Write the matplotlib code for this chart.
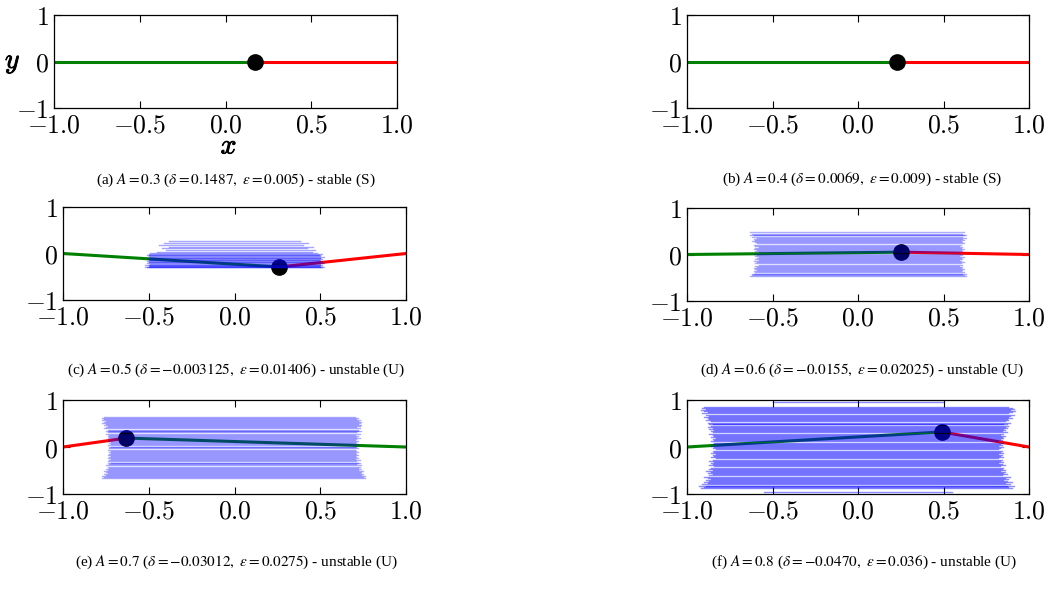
import matplotlib
matplotlib.use("Agg")
import matplotlib.pyplot as plt
import matplotlib.patheffects as pe

plt.rcParams['mathtext.fontset'] = 'cm'
plt.rcParams['font.family'] = ['DejaVu Serif']

# ---- data ----
panel_ids = ["a", "b", "c", "d", "e", "f"]
amplitudes = ["0.3", "0.4", "0.5", "0.6", "0.7", "0.8"]
deltas = ["0.1487", "0.0069", "-0.003125", "-0.0155", "-0.03012", "-0.0470"]
epsilons = ["0.005", "0.009", "0.01406", "0.02025", "0.0275", "0.036"]
verdicts = ["stable (S)", "stable (S)", "unstable (U)", "unstable (U)",
            "unstable (U)", "unstable (U)"]

# equilibrium point (black dot) per panel
eq_x = [0.17, 0.23, 0.26, 0.25, -0.63, 0.49]
eq_y = [0.0, 0.0, -0.29, 0.05, 0.19, 0.32]
# which side of the dot is green: 'left' or 'right'
green_side = ["left", "left", "left", "left", "right", "left"]

xticks = [-1.0, -0.5, 0.0, 0.5, 1.0]
xtick_labels = [r"$-1.0$", r"$-0.5$", r"$0.0$", r"$0.5$", r"$1.0$"]
yticks = [-1, 0, 1]
ytick_labels = [r"$-1$", r"$0$", r"$1$"]

# blue trajectories: y level, left end, right end
traj_c_y = [-0.30, -0.29, -0.28, -0.27, -0.26, -0.25, -0.24, -0.22, -0.21, -0.19,
            -0.18, -0.16, -0.15, -0.13, -0.12, -0.10, -0.09, -0.07, -0.06, -0.04,
            -0.03, -0.01, 0.01, 0.04, 0.08, 0.11, 0.15, 0.19, 0.23, 0.27]
traj_c_xl = [-0.52, -0.50, -0.51, -0.49, -0.50, -0.52, -0.50, -0.49, -0.51, -0.50,
             -0.50, -0.51, -0.49, -0.50, -0.50, -0.51, -0.50, -0.49, -0.50, -0.50,
             -0.51, -0.50, -0.49, -0.45, -0.40, -0.42, -0.38, -0.44, -0.41, -0.38]
traj_c_xr = [0.51, 0.50, 0.52, 0.50, 0.49, 0.51, 0.50, 0.50, 0.52, 0.50,
             0.51, 0.50, 0.49, 0.50, 0.51, 0.50, 0.50, 0.52, 0.50, 0.49,
             0.50, 0.51, 0.48, 0.45, 0.47, 0.42, 0.46, 0.40, 0.43, 0.38]

traj_d_y = [-0.47, -0.45, -0.43, -0.41, -0.38, -0.36, -0.34, -0.31, -0.29, -0.27,
            -0.24, -0.22, -0.19, -0.17, -0.15, -0.12, -0.10, -0.07, -0.05, -0.03,
            0.00, 0.02, 0.05, 0.07, 0.09, 0.12, 0.14, 0.17, 0.19, 0.21,
            0.24, 0.26, 0.29, 0.31, 0.33, 0.36, 0.38, 0.41, 0.43, 0.45, 0.48]
traj_d_xl = [-0.63, -0.62, -0.61, -0.62, -0.60, -0.61, -0.59, -0.60, -0.61, -0.59,
             -0.60, -0.58, -0.60, -0.59, -0.61, -0.58, -0.60, -0.59, -0.58, -0.60,
             -0.59, -0.61, -0.58, -0.60, -0.59, -0.61, -0.60, -0.58, -0.60, -0.61,
             -0.59, -0.60, -0.62, -0.60, -0.61, -0.59, -0.62, -0.61, -0.63, -0.62, -0.63]
traj_d_xr = [0.63, 0.62, 0.63, 0.61, 0.62, 0.60, 0.61, 0.62, 0.60, 0.61,
             0.59, 0.61, 0.60, 0.62, 0.60, 0.59, 0.61, 0.60, 0.62, 0.59,
             0.61, 0.60, 0.59, 0.61, 0.60, 0.62, 0.60, 0.61, 0.59, 0.60,
             0.62, 0.61, 0.60, 0.62, 0.61, 0.63, 0.61, 0.62, 0.63, 0.61, 0.62]

traj_e_y = [-0.66, -0.64, -0.62, -0.60, -0.57, -0.55, -0.53, -0.51, -0.48, -0.46,
            -0.44, -0.42, -0.39, -0.37, -0.35, -0.33, -0.30, -0.28, -0.26, -0.24,
            -0.21, -0.19, -0.17, -0.15, -0.12, -0.10, -0.08, -0.06, -0.03, -0.01,
            0.01, 0.04, 0.06, 0.08, 0.10, 0.13, 0.15, 0.17, 0.19, 0.22,
            0.24, 0.26, 0.28, 0.31, 0.33, 0.35, 0.37, 0.40, 0.42, 0.44,
            0.46, 0.49, 0.51, 0.53, 0.55, 0.58, 0.60, 0.62, 0.64]
traj_e_xl = [-0.77, -0.76, -0.77, -0.75, -0.76, -0.74, -0.75, -0.76, -0.74, -0.75,
             -0.73, -0.74, -0.75, -0.73, -0.74, -0.72, -0.74, -0.73, -0.72, -0.74,
             -0.73, -0.72, -0.74, -0.73, -0.72, -0.73, -0.72, -0.74, -0.73, -0.72,
             -0.73, -0.74, -0.72, -0.73, -0.72, -0.74, -0.73, -0.72, -0.74, -0.73,
             -0.74, -0.73, -0.75, -0.74, -0.73, -0.75, -0.74, -0.76, -0.75, -0.74,
             -0.76, -0.75, -0.77, -0.76, -0.75, -0.77, -0.76, -0.77, -0.76]
traj_e_xr = [0.76, 0.75, 0.76, 0.74, 0.75, 0.73, 0.74, 0.75, 0.72, 0.74,
             0.72, 0.73, 0.74, 0.71, 0.73, 0.72, 0.71, 0.73, 0.70, 0.72,
             0.71, 0.70, 0.72, 0.71, 0.70, 0.72, 0.71, 0.70, 0.72, 0.71,
             0.70, 0.71, 0.72, 0.70, 0.71, 0.72, 0.70, 0.71, 0.73, 0.71,
             0.72, 0.70, 0.73, 0.71, 0.72, 0.74, 0.72, 0.73, 0.71, 0.73,
             0.74, 0.72, 0.73, 0.74, 0.72, 0.73, 0.71, 0.72, 0.70]

traj_f_y = [-0.95, -0.88, -0.86, -0.84, -0.82, -0.79, -0.77, -0.75, -0.72, -0.70,
            -0.68, -0.65, -0.63, -0.60, -0.58, -0.56, -0.53, -0.51, -0.48, -0.46,
            -0.44, -0.41, -0.39, -0.36, -0.34, -0.32, -0.29, -0.27, -0.24, -0.22,
            -0.20, -0.17, -0.15, -0.12, -0.10, -0.08, -0.05, -0.03, 0.00, 0.02,
            0.04, 0.07, 0.09, 0.12, 0.14, 0.16, 0.19, 0.21, 0.24, 0.26,
            0.28, 0.31, 0.33, 0.36, 0.38, 0.40, 0.43, 0.45, 0.48, 0.50,
            0.52, 0.55, 0.57, 0.60, 0.62, 0.64, 0.67, 0.69, 0.72, 0.74,
            0.76, 0.79, 0.81, 0.84, 0.86, 0.95]
traj_f_xl = [-0.55, -0.92, -0.90, -0.93, -0.89, -0.91, -0.88, -0.90, -0.87, -0.89,
             -0.86, -0.88, -0.90, -0.87, -0.85, -0.88, -0.86, -0.89, -0.85, -0.87,
             -0.86, -0.84, -0.87, -0.85, -0.86, -0.84, -0.87, -0.85, -0.83, -0.86,
             -0.84, -0.85, -0.83, -0.86, -0.84, -0.85, -0.83, -0.85, -0.84, -0.86,
             -0.83, -0.85, -0.84, -0.86, -0.84, -0.85, -0.83, -0.86, -0.84, -0.85,
             -0.87, -0.85, -0.86, -0.84, -0.87, -0.85, -0.88, -0.86, -0.87, -0.85,
             -0.88, -0.86, -0.89, -0.87, -0.88, -0.90, -0.87, -0.89, -0.91, -0.88,
             -0.90, -0.92, -0.89, -0.91, -0.90, -0.50]
traj_f_xr = [0.55, 0.90, 0.88, 0.91, 0.87, 0.89, 0.86, 0.90, 0.87, 0.85,
             0.88, 0.86, 0.89, 0.84, 0.87, 0.85, 0.86, 0.83, 0.86, 0.84,
             0.85, 0.83, 0.86, 0.84, 0.82, 0.85, 0.83, 0.84, 0.82, 0.85,
             0.83, 0.84, 0.82, 0.85, 0.83, 0.84, 0.82, 0.83, 0.85, 0.82,
             0.84, 0.83, 0.85, 0.82, 0.84, 0.83, 0.85, 0.84, 0.86, 0.83,
             0.85, 0.87, 0.84, 0.86, 0.85, 0.87, 0.86, 0.88, 0.85, 0.87,
             0.89, 0.86, 0.88, 0.87, 0.90, 0.88, 0.89, 0.91, 0.88, 0.90,
             0.92, 0.89, 0.91, 0.90, 0.88, 0.50]

trajectories = {
    "c": (traj_c_y, traj_c_xl, traj_c_xr),
    "d": (traj_d_y, traj_d_xl, traj_d_xr),
    "e": (traj_e_y, traj_e_xl, traj_e_xr),
    "f": (traj_f_y, traj_f_xl, traj_f_xr),
}
traj_alpha = {"c": 0.35, "d": 0.32, "e": 0.32, "f": 0.45}

# ---- layout (pixels of a 1051x596 canvas) ----
W, H = 1051, 596
axes_px = [(54, 15, 343, 93), (687, 15, 342, 93),
           (63, 207, 343, 93), (687, 208, 342, 93),
           (63, 400, 343, 94), (687, 400, 342, 94)]
caption_px = [(236, 180), (862, 179), (236, 370), (862, 370), (236, 562), (864, 562)]

fig = plt.figure(figsize=(W / 100, H / 100), dpi=100)
bold = [pe.withStroke(linewidth=0.6, foreground="black")]

for i, pid in enumerate(panel_ids):
    x0, y0, w, h = axes_px[i]
    ax = fig.add_axes([x0 / W, 1 - (y0 + h) / H, w / W, h / H])

    left_col, right_col = ("green", "red") if green_side[i] == "left" else ("red", "green")
    ax.plot([-1.0, eq_x[i]], [0.0, eq_y[i]], color=left_col, lw=2.2, zorder=2)
    ax.plot([eq_x[i], 1.0], [eq_y[i], 0.0], color=right_col, lw=2.2, zorder=2)
    ax.plot(eq_x[i], eq_y[i], "o", color="black", ms=11, zorder=3)

    if pid in trajectories:
        ty, txl, txr = trajectories[pid]
        for y, xl, xr in zip(ty, txl, txr):
            ax.plot([xl, xr], [y, y], color="blue", lw=1.0,
                    alpha=traj_alpha[pid], zorder=4)

    ax.set_xlim(-1, 1)
    ax.set_ylim(-1, 1)
    ax.set_xticks(xticks)
    ax.set_xticklabels(xtick_labels)
    ax.set_yticks(yticks)
    ax.set_yticklabels(ytick_labels)
    ax.tick_params(direction="in", top=True, right=True, labelsize=18.5,
                   length=5, width=0.8)
    ax.tick_params(axis="x", pad=3)
    ax.tick_params(axis="y", pad=4)
    for s in ax.spines.values():
        s.set_linewidth(0.9)

    if pid == "a":
        ax.set_xlabel(r"$x$", fontsize=20, va="center", path_effects=bold)
        ax.xaxis.set_label_coords(0.51, -0.41)
        ax.set_ylabel(r"$y$", fontsize=20, rotation=0, va="center", ha="center",
                      path_effects=bold)
        ax.yaxis.set_label_coords(-0.12, 0.5)

    cx, cy = caption_px[i]
    caption = (f"({pid}) $A = {amplitudes[i]}$ ($\\delta = {deltas[i]},\\ "
               f"\\varepsilon = {epsilons[i]}$) - {verdicts[i]}")
    fig.text(cx / W, 1 - cy / H, caption, ha="center", va="center",
             fontsize=11, family=["Liberation Serif", "DejaVu Serif"],
             math_fontfamily="stix")

fig.savefig("out.png", dpi=100)
